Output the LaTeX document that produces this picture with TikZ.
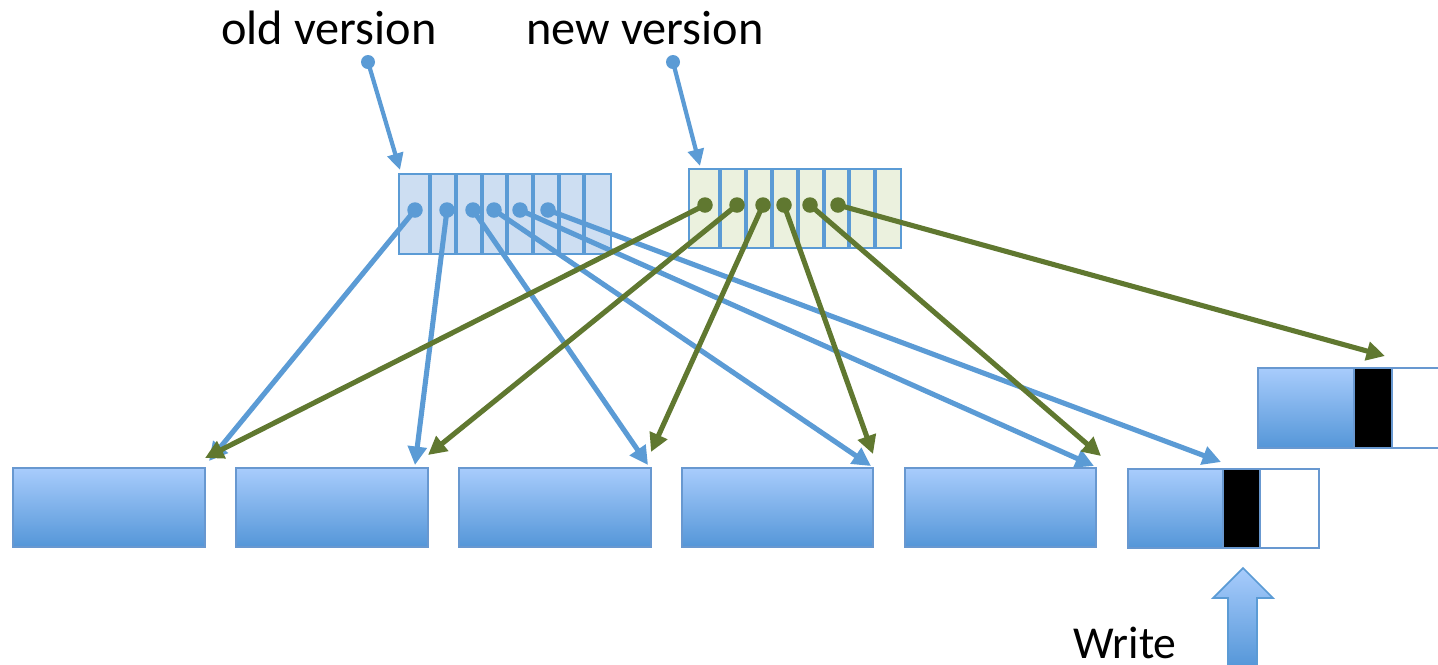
\documentclass[tikz,border=0pt]{standalone}
\usepackage{fontspec}
\setmainfont{Carlito}
\usetikzlibrary{arrows.meta}

\definecolor{lineblue}{RGB}{91,155,213}
\definecolor{linegreen}{RGB}{96,120,48}
\definecolor{oldfill}{RGB}{205,222,242}
\definecolor{newfill}{RGB}{235,241,222}
\definecolor{blktop}{RGB}{168,204,252}
\definecolor{blkbot}{RGB}{84,150,216}
\definecolor{blkedge}{RGB}{104,152,208}

\tikzset{
  px/.style={x=0.02cm,y=-0.02cm},
  lbl/.style={font=\fontsize{27.5}{32}\selectfont, inner sep=0pt},
  wlbl/.style={font=\fontsize{26}{30}\selectfont, inner sep=0pt},
  blk/.style={draw=blkedge, line width=1.3pt, top color=blktop, bottom color=blkbot,
              inner sep=0pt, anchor=north west, minimum height=1.58cm},
  blackcell/.style={draw=blkedge, line width=1.3pt, fill=black, inner sep=0pt,
              anchor=north west, minimum height=1.58cm},
  whitecell/.style={draw=blkedge, line width=1.3pt, fill=white, inner sep=0pt,
              anchor=north west, minimum height=1.58cm},
  dotb/.style={circle, fill=lineblue, inner sep=0pt, minimum size=0.31cm},
  dotg/.style={circle, fill=linegreen, inner sep=0pt, minimum size=0.31cm},
  oldarr/.style={draw=lineblue, line width=2.9pt,
                 -{Triangle[length=10.5pt,width=10.5pt]}},
  newarr/.style={draw=linegreen, line width=2.9pt,
                 -{Triangle[length=10.5pt,width=10.5pt]}},
  labarr/.style={draw=lineblue, line width=2.4pt,
                 -{Triangle[length=9.5pt,width=9pt]}},
  divider/.style={draw=lineblue, line width=2.7pt},
}

\begin{document}
\begin{tikzpicture}[px]
\useasboundingbox (0,0) rectangle (1438,664);
\clip (0,0) rectangle (1438,664);

% labels
\node[lbl, anchor=base] (oldlbl) at (329,44) {old version};
\node[lbl, anchor=base] (newlbl) at (645,44) {new version};
\node[wlbl, anchor=base] (wrlbl) at (1125,658) {Write};

% the two pointer arrays
\node[draw=lineblue, line width=1.2pt, fill=oldfill, inner sep=0pt, anchor=north west,
      minimum width=4.24cm, minimum height=1.6cm] (oldbox) at (398,173) {};
\node[draw=lineblue, line width=1.2pt, fill=newfill, inner sep=0pt, anchor=north west,
      minimum width=4.24cm, minimum height=1.58cm] (newbox) at (688,168) {};
\foreach \d in {430,456,482,507,533,559,584}
  \draw[divider] (\d,173) -- (\d,253);
\foreach \d in {720,746,772,798,824,849,875}
  \draw[divider] (\d,168) -- (\d,247);

% pointers from the labels
\node[dotb, minimum size=0.28cm] (oldhead) at (368,62) {};
\node[dotb, minimum size=0.28cm] (newhead) at (673,62) {};
\coordinate (oldtip) at (400,170);
\coordinate (newtip) at (700,166);
\draw[labarr] (oldhead.center) -- (oldtip);
\draw[labarr] (newhead.center) -- (newtip);

% data blocks on the log
\node[blk, minimum width=3.84cm] (b1) at (12,467) {};
\node[blk, minimum width=3.84cm] (b2) at (235,467) {};
\node[blk, minimum width=3.84cm] (b3) at (458,467) {};
\node[blk, minimum width=3.82cm] (b4) at (681,467) {};
\node[blk, minimum width=3.82cm] (b5) at (904,467) {};
\node[blk, minimum width=1.90cm] (b6) at (1127,468) {};
\node[blackcell, minimum width=0.74cm] (b6k) at (1222,468) {};
\node[whitecell, minimum width=1.18cm] (b6w) at (1259,468) {};
\node[blk, minimum width=1.92cm, minimum height=1.6cm] (b7) at (1257,367) {};
\node[blackcell, minimum width=0.76cm, minimum height=1.6cm] (b7k) at (1353,367) {};
\node[whitecell, minimum width=1.4cm, minimum height=1.6cm] (b7w) at (1391,367) {};

% write pointer
\path[draw=lineblue, line width=1pt, top color=blktop, bottom color=blkbot]
  (1228,668) -- (1228,598) -- (1213,598) -- (1243,568) -- (1273,598)
  -- (1257,598) -- (1257,668) -- cycle;

% slots of the two versions
\foreach \i/\x in {1/415,2/447,3/473,4/494,5/520,6/548}
  \coordinate (o\i) at (\x,210);
\foreach \i/\x in {1/705,2/737,3/763,4/784,5/810,6/838}
  \coordinate (n\i) at (\x,205);

\coordinate (ot1) at (209,461);
\coordinate (ot2) at (415,465);
\coordinate (ot3) at (648,465);
\coordinate (ot4) at (871,466);
\coordinate (ot5) at (1094,466);
\coordinate (ot6) at (1221,462);

\coordinate (nt1) at (205,458);
\coordinate (nt2) at (428,455);
\coordinate (nt3) at (651,452);
\coordinate (nt4) at (873,454);
\coordinate (nt5) at (1101,456);
\coordinate (nt6) at (1385,356);

\foreach \i in {1,...,6}
  \draw[oldarr] (o\i) -- (ot\i);
\foreach \i in {1,...,6}
  \draw[newarr] (n\i) -- (nt\i);

\foreach \i in {1,...,6}
  \node[dotb] at (o\i) {};
\foreach \i in {1,...,6}
  \node[dotg] at (n\i) {};
\end{tikzpicture}
\end{document}
